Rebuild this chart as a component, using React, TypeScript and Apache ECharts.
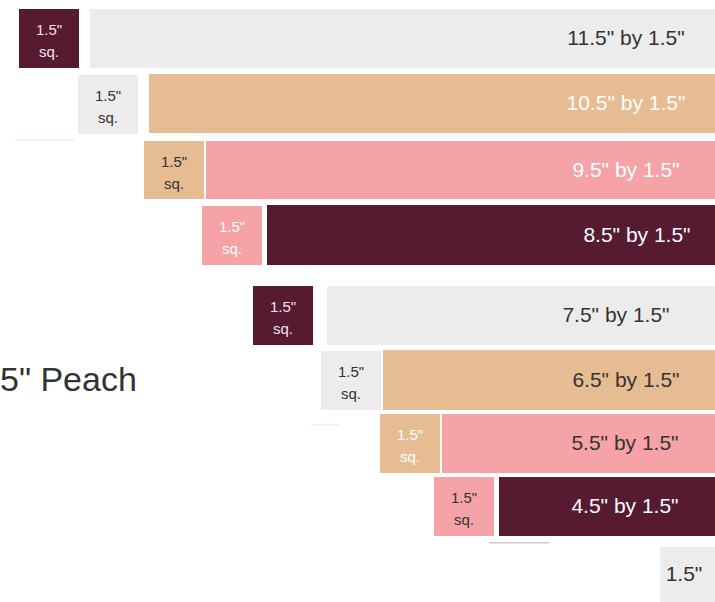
import React, { useEffect, useRef } from "react";
import * as echarts from "echarts";

// Palette indices: 0 maroon, 1 pink, 2 peach, 3 light gray
const palette = ["#561a31", "#f5a3a6", "#e6bc93", "#ececec"];
const inkColors = ["#333333", "#ffffff", "#f3e3e6"];

// Squares (1.5" sq.) per row: [x0, y0, x1, y1]
const squareRects = [
  [19, 9, 79, 68],
  [78, 75, 138, 134],
  [144, 141, 204, 199],
  [202, 206, 262, 265],
  [253, 286, 313, 345],
  [321, 351, 381, 410],
  [380, 414, 440, 473],
  [434, 477, 494, 536],
];
const squareColor = [0, 3, 2, 1, 0, 3, 2, 1];
const squareInk = [2, 0, 0, 1, 2, 0, 1, 0];

// Strips per row
const stripLabels = [
  '11.5" by 1.5"',
  '10.5" by 1.5"',
  '9.5" by 1.5"',
  '8.5" by 1.5"',
  '7.5" by 1.5"',
  '6.5" by 1.5"',
  '5.5" by 1.5"',
  '4.5" by 1.5"',
];
const stripRects = [
  [90, 9, 715, 68],
  [149, 74, 715, 133],
  [206, 141, 715, 199],
  [267, 205, 715, 265],
  [327, 286, 715, 345],
  [383, 350, 715, 410],
  [442, 414, 715, 473],
  [499, 477, 715, 536],
];
const stripLabelX = [626, 626, 626, 637, 616, 626, 625, 625];
const stripColor = [3, 2, 1, 0, 3, 2, 1, 0];
const stripInk = [0, 1, 1, 1, 0, 0, 0, 1];

// Last small piece
const lastRect = [660, 547, 715, 602];
const lastLabel = '1.5"';

// Faint edges of hidden pieces: [x0, y, x1, colorIndex]
const faintEdges = [
  [15, 139, 74, 1],
  [311, 424, 339, 2],
  [489, 542, 549, 0],
];

const sideTitle = '5" Peach';

export default function App() {
  const ref = useRef<HTMLDivElement>(null);
  useEffect(() => {
    document.body.style.margin = "0";
    const chart = echarts.init(ref.current!, null, { renderer: "svg" });
    const rows: any[] = [];
    squareRects.forEach((r, i) => {
      rows.push({ value: [r[0], r[1], r[2], r[3]], kind: "sq", fill: palette[squareColor[i]], ink: inkColors[squareInk[i]], text: "", lx: (r[0] + r[2]) / 2 });
    });
    stripRects.forEach((r, i) => {
      rows.push({ value: [r[0], r[1], r[2], r[3]], kind: "strip", fill: palette[stripColor[i]], ink: inkColors[stripInk[i]], text: stripLabels[i], lx: stripLabelX[i] });
    });
    rows.push({ value: lastRect, kind: "last", fill: palette[3], ink: inkColors[0], text: lastLabel, lx: 684 });
    faintEdges.forEach((e) => {
      rows.push({ value: [e[0], e[1], e[2], e[1] + 1.5], kind: "edge", fill: palette[e[3]], ink: "", text: "", lx: 0, opacity: 0.25 });
    });

    chart.setOption({
      animation: false,
      grid: { left: 0, right: 0, top: 0, bottom: 0 },
      xAxis: { type: "value", min: 0, max: 715, show: false },
      yAxis: { type: "value", min: 0, max: 602, inverse: true, show: false },
      graphic: [
        {
          type: "text",
          left: 0,
          top: 362,
          style: { text: sideTitle, fill: "#333333", font: "34px 'Liberation Sans', Arial, sans-serif" },
        },
      ],
      series: [
        {
          type: "custom",
          data: rows,
          renderItem: (params: any, api: any) => {
            const d = rows[params.dataIndex];
            const p0 = api.coord([api.value(0), api.value(1)]);
            const p1 = api.coord([api.value(2), api.value(3)]);
            const x = Math.min(p0[0], p1[0]);
            const y = Math.min(p0[1], p1[1]);
            const w = Math.abs(p1[0] - p0[0]);
            const h = Math.abs(p1[1] - p0[1]);
            const children: any[] = [
              { type: "rect", shape: { x, y, width: w, height: h }, style: { fill: d.fill, opacity: d.opacity ?? 1 } },
            ];
            if (d.kind === "sq") {
              children.push({
                type: "text",
                style: {
                  text: '1.5"\nsq.',
                  x: x + w / 2,
                  y: y + h / 2 + 2,
                  align: "center",
                  verticalAlign: "middle",
                  fill: d.ink,
                  font: "15px 'Liberation Sans', Arial, sans-serif",
                  lineHeight: 22,
                },
              });
            } else if (d.kind === "strip" || d.kind === "last") {
              children.push({
                type: "text",
                style: {
                  text: d.text,
                  x: d.lx,
                  y: y + h / 2 - 1,
                  align: "center",
                  verticalAlign: "middle",
                  fill: d.ink,
                  font: "21px 'Liberation Sans', Arial, sans-serif",
                },
              });
            }
            return { type: "group", children };
          },
        },
      ],
    });
    return () => chart.dispose();
  }, []);
  return <div ref={ref} style={{ width: 715, height: 602 }} />;
}
